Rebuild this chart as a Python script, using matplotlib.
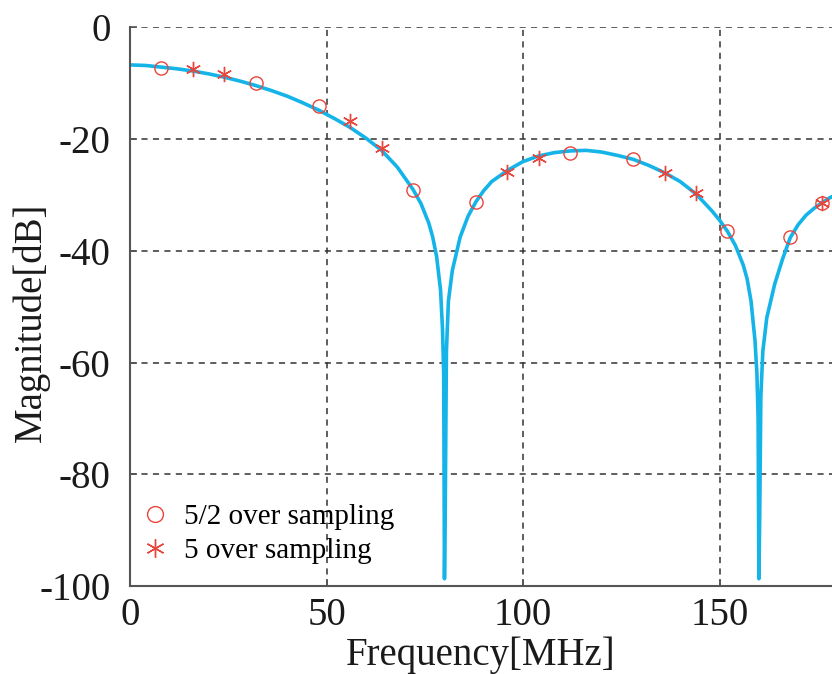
import matplotlib
matplotlib.use("Agg")
import matplotlib.pyplot as plt

# magnitude response (MHz, dB)
freq = [0, 4, 8, 12, 16, 20, 24, 28, 32, 36, 40, 44, 48, 52, 56, 60, 64, 68,
        72, 74, 76, 77, 78, 79, 79.5, 79.8, 80, 80.2, 80.5, 81, 82, 84, 86,
        88, 90, 92, 96, 100, 104, 108, 112, 116, 120, 124, 128, 132, 136,
        140, 144, 148, 150, 152, 154, 156, 157, 158, 159, 159.5, 159.8, 160,
        160.2, 160.5, 161, 162, 164, 166, 168, 170, 172, 174, 176, 178, 180]
mag_db = [-6.7, -6.8, -7.1, -7.4, -7.8, -8.3, -8.9, -9.6, -10.4, -11.3, -12.3,
          -13.5, -14.8, -16.3, -17.9, -19.8, -22.0, -25.0, -29.0, -31.5,
          -35.0, -37.5, -41.0, -47.0, -54.0, -62.0, -98.7, -86.0, -58.0,
          -49.0, -43.5, -37.5, -33.8, -31.2, -29.2, -27.6, -25.6, -24.0,
          -23.0, -22.4, -22.1, -22.0, -22.3, -22.9, -23.6, -24.7, -26.0,
          -27.6, -29.8, -32.8, -34.5, -36.5, -39.0, -42.5, -45.0, -49.0,
          -56.0, -62.0, -70.0, -98.7, -88.0, -66.0, -58.0, -52.0, -46.0,
          -41.5, -37.6, -35.3, -33.6, -32.4, -31.4, -30.5, -29.8]

# 5/2 over sampling points
circ_f = [8, 32, 48, 72, 88, 112, 128, 152, 168, 176]
circ_db = [-7.3, -9.9, -14.0, -29.1, -31.3, -22.4, -23.6, -36.5, -37.6, -31.5]

# 5 over sampling points
star_f = [16, 24, 56, 64, 96, 104, 136, 144, 176]
star_db = [-7.5, -8.4, -16.8, -21.5, -25.9, -23.4, -26.0, -29.7, -31.5]

xticks = [0, 50, 100, 150]
yticks = [0, -20, -40, -60, -80, -100]

plt.rcParams['font.family'] = ['Liberation Serif', 'DejaVu Serif']

fig = plt.figure(figsize=(8.32, 6.74), dpi=100)
ax = fig.add_axes([0.1563, 0.1306, 0.8437, 0.8286])

ax.plot(freq, mag_db, color='#14b4e8', lw=2.6, zorder=2)
red = '#e8453c'
ax.plot(circ_f, circ_db, ls='none', marker='o', ms=9.5, mfc='none', mec=red,
        mew=1.0, label='5/2 over sampling', zorder=3)
ax.plot(star_f, star_db, ls='none', marker=(6, 2, 0), ms=11, mec=red,
        mew=1.0, label='5 over sampling', zorder=3)

ax.set_xlim(0, 178.6)
ax.set_ylim(-100, 0)
ax.set_xticks(xticks)
ax.set_yticks(yticks)
ax.set_yticklabels([str(t) for t in yticks])
ax.tick_params(direction='in', length=5, width=1.2, labelsize=28, colors='#555555',
               labelcolor='#1a1a1a')
ax.tick_params(axis='y', pad=14)
ax.tick_params(axis='x', pad=8)

ax.grid(True, ls=(0, (4, 3.5)), color='#333333', lw=1.1)
ax.set_axisbelow(True)
for side in ('top', 'right'):
    ax.spines[side].set_visible(False)
for side in ('left', 'bottom'):
    ax.spines[side].set_color('#555555')
    ax.spines[side].set_linewidth(1.5)

ax.set_xlabel('Frequency[MHz]', fontsize=28, color='#1a1a1a', labelpad=2)
ax.set_ylabel('Magnitude[dB]', fontsize=28, color='#1a1a1a')
ax.yaxis.set_label_coords(-0.114, 0.473)

ax.legend(loc='upper left', bbox_to_anchor=(0.015, 0.147), frameon=False,
          fontsize=21, handlelength=1.0, handletextpad=0.5, labelspacing=0.25,
          borderpad=0, borderaxespad=0, markerscale=1.2)

fig.savefig('out.png', dpi=100)
